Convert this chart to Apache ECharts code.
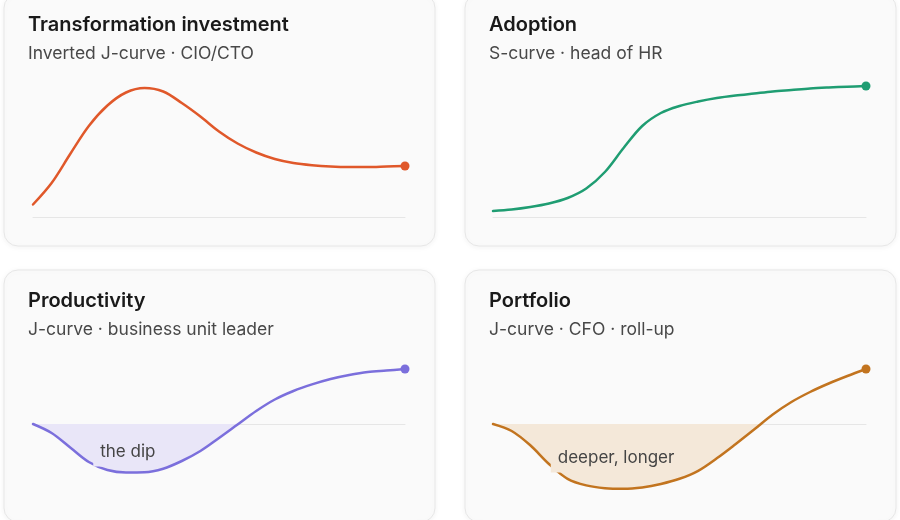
<!DOCTYPE html>
<html>
<head>
<meta charset="utf-8">
<title>Curves</title>
<script src="https://cdn.jsdelivr.net/npm/echarts@6/dist/echarts.min.js"></script>
<style>
  html, body { margin: 0; padding: 0; background: #ffffff; }
  #main { width: 900px; height: 520px; }
</style>
</head>
<body>
<div id="main"></div>
<script>
// shared time steps (arbitrary units)
var steps = [0, 1, 2, 3, 4, 5, 6, 7, 8, 9, 10, 11, 12, 13, 14, 15, 16, 17, 18, 19, 20];

// level above the baseline
var investment = [12.5, 34, 63, 91, 111.5, 124.5, 129, 125.5, 114, 100.5, 85.5, 73.5, 64.5, 58, 54, 51.8, 50.5, 50, 50, 50.5, 51];
var adoption = [6, 7.5, 10, 13.5, 19, 28.5, 45, 69, 91, 104, 111, 115.5, 119, 121.5, 123.5, 125.5, 127, 128.5, 129.5, 130.3, 131];
var productivity = [0, -9, -23.5, -38, -46, -48.5, -48.3, -44.7, -37, -27, -14, -0.5, 13, 24.5, 33, 39.6, 45, 49, 52, 53.5, 55];
var portfolio = [0, -7, -21.3, -40, -54.8, -61.4, -64.2, -64.8, -63.4, -60, -54.8, -46.8, -34.3, -20.2, -5.5, 9.5, 22, 32, 40.5, 48, 55];

var titles = ['Transformation investment', 'Adoption', 'Productivity', 'Portfolio'];
var subtitles = ['Inverted J-curve \u00b7 CIO/CTO', 'S-curve \u00b7 head of HR', 'J-curve \u00b7 business unit leader', 'J-curve \u00b7 CFO \u00b7 roll-up'];
var dipLabels = ['the dip', 'deeper, longer'];
var dipLabelAt = [[5.1, -28], [6.6, -34]];

(function() {
	'use strict';

	var chart = echarts.init(document.getElementById('main'));
	var font = 'Inter, "Noto Sans", sans-serif';
	var lineColors = ['#e0582a', '#1f9d72', '#7b6fdc', '#c2741f'];
	var fillColors = ['#e9e6f8', '#f4e8d9'];
	var values = [investment, adoption, productivity, portfolio];

	var cards = [
		{ x: 4, y: -6 }, { x: 465, y: -6 },
		{ x: 4, y: 270 }, { x: 465, y: 270 }
	];
	var grids = [
		{ left: 33, top: 77, width: 372, height: 140 },
		{ left: 493, top: 77, width: 373, height: 140 },
		{ left: 33, top: 354, width: 372, height: 140 },
		{ left: 493, top: 354, width: 373, height: 140 }
	];

	function pairs(ys) {
		return steps.map(function(s, i) { return [s, ys[i]]; });
	}

	var graphic = [];
	cards.forEach(function(c, i) {
		graphic.push({
			type: 'rect', z: -10,
			shape: { x: c.x, y: c.y, width: 431, height: 252, r: 14 },
			style: { fill: '#fafafa', stroke: '#e7e7e7', lineWidth: 1,
				shadowColor: 'rgba(0,0,0,0.05)', shadowBlur: 6, shadowOffsetY: 1 }
		});
		graphic.push({
			type: 'text', z: -5,
			x: c.x + 24, y: c.y + 31,
			style: { text: titles[i], font: '600 20px ' + font, fill: '#1a1a1a', verticalAlign: 'middle' }
		});
		graphic.push({
			type: 'text', z: -5,
			x: c.x + 24, y: c.y + 60,
			style: { text: subtitles[i], font: '400 17.5px ' + font, fill: '#484848', verticalAlign: 'middle' }
		});
	});

	var xAxis = grids.map(function(g, i) {
		return {
			type: 'value', gridIndex: i, min: 0, max: 20,
			axisLine: { show: true, onZero: true, lineStyle: { color: '#e6e6e6', width: 1 } },
			axisTick: { show: false }, axisLabel: { show: false }, splitLine: { show: false }
		};
	});
	var yAxis = grids.map(function(g, i) {
		return {
			type: 'value', gridIndex: i, show: false,
			min: i < 2 ? 0 : -70, max: i < 2 ? 140 : 70,
			splitLine: { show: false }
		};
	});

	var series = values.map(function(ys, i) {
		var last = ys.length - 1;
		var marks = [{
			coord: [steps[last], ys[last]], symbol: 'circle', symbolSize: 9,
			itemStyle: { color: lineColors[i] }, label: { show: false }
		}];
		if (i >= 2) {
			marks.push({
				coord: dipLabelAt[i - 2], symbol: 'circle', symbolSize: 1,
				itemStyle: { color: 'rgba(0,0,0,0)' },
				label: { show: true, position: 'inside', formatter: dipLabels[i - 2],
					fontFamily: font, fontSize: 17, color: '#444444',
					backgroundColor: fillColors[i - 2], padding: [6, 7] }
			});
		}
		return {
			type: 'line', xAxisIndex: i, yAxisIndex: i,
			data: pairs(ys), smooth: 0.33, symbol: 'none',
			lineStyle: { color: lineColors[i], width: 2.5, cap: 'round', join: 'round' },
			itemStyle: { color: lineColors[i] },
			markPoint: { silent: true, animation: false, data: marks },
			animation: false
		};
	});

	chart.setOption({
		backgroundColor: '#ffffff',
		animation: false,
		grid: grids,
		xAxis: xAxis,
		yAxis: yAxis,
		graphic: graphic,
		series: series
	});

	// shade only the part below the baseline for the J-curves
	var h = chart.getHeight();
	var shaded = [{}, {}];
	[2, 3].forEach(function(idx) {
		var zeroY = chart.convertToPixel({ gridIndex: idx }, [0, 0])[1];
		var stop = zeroY / h;
		shaded[idx] = {
			areaStyle: {
				opacity: 1,
				color: new echarts.graphic.LinearGradient(0, 0, 0, h, [
					{ offset: 0, color: 'rgba(250,250,250,0)' },
					{ offset: stop, color: 'rgba(250,250,250,0)' },
					{ offset: stop, color: fillColors[idx - 2] },
					{ offset: 1, color: fillColors[idx - 2] }
				], true)
			}
		};
	});
	chart.setOption({ series: shaded });
})();
</script>
</body>
</html>
